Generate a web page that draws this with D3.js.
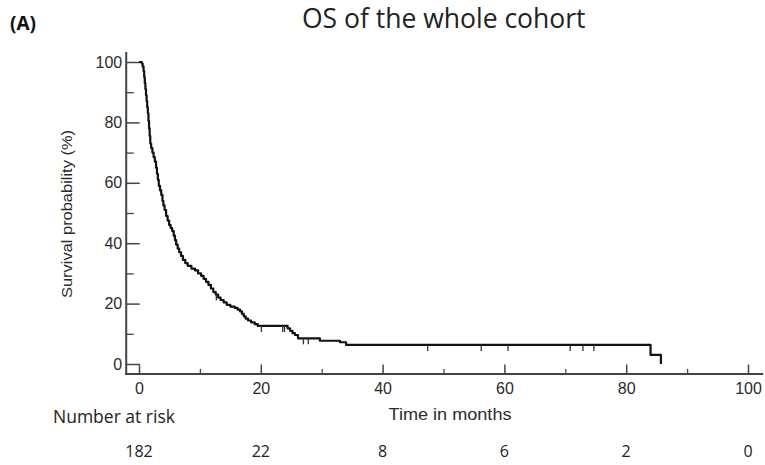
<!DOCTYPE html>
<html>
<head>
<meta charset="utf-8">
<script src="https://cdn.jsdelivr.net/npm/d3@7"></script>
<style>
  body { margin: 0; background: #fff; }
  svg { display: block; }
</style>
</head>
<body>
<div id="chart-container"></div>
<script>
// Kaplan-Meier steps (months, survival %)
const stepTimes = [0, 0.45, 0.6, 0.75, 0.85, 0.95, 1.05, 1.15, 1.25, 1.35, 1.45, 1.55, 1.65,
  1.75, 1.85, 2.0, 2.2, 2.4, 2.6, 2.8, 2.95, 3.1, 3.25, 3.45, 3.65, 3.85, 4.0, 4.2, 4.45,
  4.7, 4.95, 5.2, 5.45, 5.7, 5.9, 6.1, 6.35, 6.6, 6.9, 7.2, 7.6, 8.0, 8.6, 9.2, 9.7, 10.2,
  10.6, 11.0, 11.4, 11.8, 12.2, 12.6, 13.0, 13.4, 13.9, 14.4, 15.0, 15.7, 16.2, 16.6, 16.9,
  17.2, 17.5, 17.9, 18.4, 19.0, 19.5, 24.4, 24.8, 25.2, 25.6, 26.1, 29.7, 33.0, 34.0, 84.0,
  85.7]
const stepSurvival = [100, 99.5, 98.5, 97, 95, 93, 91, 89, 87, 85, 83, 80.5, 78,
  75.5, 73, 71.5, 70, 68.5, 67, 65, 63, 61, 59, 57.5, 56, 54, 52.5, 51, 49,
  47.5, 46, 45, 44, 42.5, 41, 39.5, 38.2, 37, 35.8, 34.5, 33.4, 32.5, 31.6, 31, 30, 29.2,
  28.2, 27.2, 26.2, 25, 23.8, 23, 22, 21.2, 20.4, 19.6, 19, 18.6, 18, 17.4, 16.6,
  15.8, 15, 14.4, 13.8, 13.2, 12.6, 11.8, 11, 10.2, 9.6, 8.5, 7.7, 7.2, 6.3, 3.0,
  0]
const curveEnd = 85.7

// censored observations (months)
const censorTimes = [12.7, 20.1, 23.6, 23.9, 27.0, 27.8, 47.4, 56.2, 60.6, 70.8, 72.9, 74.7]

const xMajorTicks = [0, 20, 40, 60, 80, 100]
const xMinorTicks = [10, 30, 50, 70, 90]
const yMajorTicks = [0, 20, 40, 60, 80, 100]
const yMinorTicks = [10, 30, 50, 70, 90]

const riskTimes = [0, 20, 40, 60, 80, 100]
const riskCounts = [182, 22, 8, 6, 2, 0]

const titleText = 'OS of the whole cohort'
const panelLabel = '(A)'
const xLabel = 'Time in months'
const yLabel = 'Survival probability (%)'
const riskLabel = 'Number at risk'

const width = 765
const height = 465

const svg = d3
  .select('#chart-container')
  .append('svg')
  .attr('width', width)
  .attr('height', height)
  .style('background', '#fff')

const x = d3.scaleLinear().domain([0, 100]).range([139, 748])
const y = d3.scaleLinear().domain([0, 100]).range([364, 62])

// axes sit a bit off the origin, like the original software draws them
const axisX0 = x(-2.1)
const axisY0 = y(-3.3)

const axisColor = '#444'
const textColor = '#2b2b2b'

// y axis
svg
  .append('g')
  .attr('transform', `translate(${axisX0},0)`)
  .call(d3.axisLeft(y).tickValues(yMajorTicks).tickSize(-13.5).tickPadding(4))
  .call(g => g.select('.domain').remove())
  .call(g => g.selectAll('line').attr('stroke', axisColor).attr('stroke-width', 1.5))
  .call(g =>
    g.selectAll('text')
      .attr('fill', textColor)
      .style('font', '16px "Liberation Sans", Arial, sans-serif'),
  )

svg
  .append('g')
  .attr('transform', `translate(${axisX0},0)`)
  .call(d3.axisLeft(y).tickValues(yMinorTicks).tickSize(-7.5).tickFormat(''))
  .call(g => g.select('.domain').remove())
  .call(g => g.selectAll('line').attr('stroke', axisColor).attr('stroke-width', 1.3))

// x axis
svg
  .append('g')
  .attr('transform', `translate(0,${axisY0})`)
  .call(d3.axisBottom(x).tickValues(xMajorTicks).tickSize(-9.5).tickPadding(9))
  .call(g => g.select('.domain').remove())
  .call(g => g.selectAll('line').attr('stroke', axisColor).attr('stroke-width', 1.5))
  .call(g =>
    g.selectAll('text')
      .attr('fill', textColor)
      .style('font', '16px "Liberation Sans", Arial, sans-serif'),
  )

svg
  .append('g')
  .attr('transform', `translate(0,${axisY0})`)
  .call(d3.axisBottom(x).tickValues(xMinorTicks).tickSize(-5).tickFormat(''))
  .call(g => g.select('.domain').remove())
  .call(g => g.selectAll('line').attr('stroke', axisColor).attr('stroke-width', 1.3))

// axis lines
svg
  .append('line')
  .attr('x1', axisX0)
  .attr('x2', axisX0)
  .attr('y1', y(103.3))
  .attr('y2', axisY0 + 1)
  .attr('stroke', axisColor)
  .attr('stroke-width', 2)

svg
  .append('line')
  .attr('x1', axisX0 - 1)
  .attr('x2', x(102.5))
  .attr('y1', axisY0)
  .attr('y2', axisY0)
  .attr('stroke', axisColor)
  .attr('stroke-width', 2)

// survival curve
const kmPoints = stepTimes.map((t, i) => [t, stepSurvival[i]])
kmPoints.push([curveEnd, stepSurvival[stepSurvival.length - 1]])

const line = d3
  .line()
  .x(d => x(d[0]))
  .y(d => y(d[1]))
  .curve(d3.curveStepAfter)

svg
  .append('path')
  .datum(kmPoints)
  .attr('fill', 'none')
  .attr('stroke', '#111')
  .attr('stroke-width', 2.2)
  .attr('stroke-linejoin', 'round')
  .attr('d', line)

// survival at a given time, for placing censor ticks
const survivalAt = t => {
  let s = stepSurvival[0]
  stepTimes.forEach((st, i) => {
    if (st <= t) s = stepSurvival[i]
  })
  return s
}

svg
  .append('g')
  .selectAll('line')
  .data(censorTimes)
  .join('line')
  .attr('x1', d => x(d))
  .attr('x2', d => x(d))
  .attr('y1', d => y(survivalAt(d)))
  .attr('y2', d => y(survivalAt(d)) + 6)
  .attr('stroke', '#333')
  .attr('stroke-width', 1.3)

// y label
svg
  .append('text')
  .attr('transform', `translate(72,${y(50) + 1}) rotate(-90)`)
  .attr('text-anchor', 'middle')
  .attr('fill', textColor)
  .attr('textLength', 168)
  .attr('lengthAdjust', 'spacingAndGlyphs')
  .style('font', '14px "Liberation Sans", Arial, sans-serif')
  .text(yLabel)

// x label
svg
  .append('text')
  .attr('x', 450)
  .attr('y', 420)
  .attr('text-anchor', 'middle')
  .attr('fill', textColor)
  .attr('textLength', 123)
  .attr('lengthAdjust', 'spacingAndGlyphs')
  .style('font', '16px "Liberation Sans", Arial, sans-serif')
  .text(xLabel)

// title and panel label
svg
  .append('text')
  .attr('x', 302)
  .attr('y', 28)
  .attr('fill', '#222')
  .style('font', '26.5px "Open Sans", sans-serif')
  .text(titleText)

svg
  .append('text')
  .attr('x', 10)
  .attr('y', 30)
  .attr('fill', '#111')
  .style('font', 'bold 19px "Open Sans", sans-serif')
  .text(panelLabel)

// number at risk table
svg
  .append('text')
  .attr('x', 53)
  .attr('y', 423)
  .attr('fill', '#222')
  .style('font', '17.5px "Open Sans", sans-serif')
  .text(riskLabel)

svg
  .append('g')
  .selectAll('text')
  .data(riskCounts)
  .join('text')
  .attr('x', (d, i) => x(riskTimes[i]))
  .attr('y', 457)
  .attr('text-anchor', 'middle')
  .attr('fill', '#222')
  .style('font', '16px "Open Sans", sans-serif')
  .text(d => d)
</script>
</body>
</html>
